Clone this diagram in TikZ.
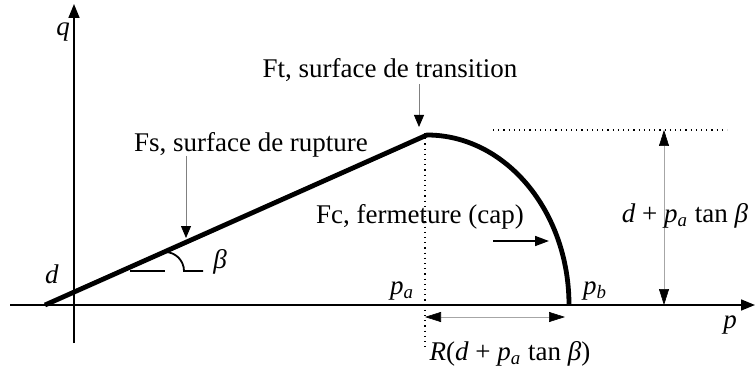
\documentclass[tikz,border=0pt]{standalone}
\usepackage{fontspec}
\setmainfont{Liberation Serif}
\usetikzlibrary{arrows.meta}
\newcommand\myPa{\textit{p}\textsubscript{\textit{a}}}
\newcommand\myBeta{\textit{β}}
\begin{document}
\begin{tikzpicture}[x=0.5pt,y=-0.5pt,
 axis/.style={line width=0.8pt,-{Triangle[length=7pt,width=5.5pt]}},
 thickline/.style={line width=2.4pt},
 dim/.style={gray!70,line width=0.3pt,{Triangle[length=8pt,width=5pt,black]}-{Triangle[length=8pt,width=5pt,black]}},
 lbl/.style={font=\fontsize{13.5}{16}\selectfont,inner sep=0pt},
 ptr/.style={gray,line width=0.4pt,-{Triangle[length=6pt,width=5pt,black]}},
 dots/.style={dotted,line width=0.6pt}]
\useasboundingbox (0,0) rectangle (755,374);
% axes
\coordinate (xl) at (10,305);
\coordinate (xr) at (755,305);
\coordinate (yb) at (74,343);
\coordinate (yt) at (74,4);
\draw[axis] (xl) -- (xr);
\draw[axis] (yb) -- (yt);
% curve
\coordinate (d0) at (45,305);
\coordinate (top) at (427,135);
\coordinate (pb) at (569,305);
\draw[thickline,line join=round] (d0) -- (top) arc[start angle=90,end angle=0,x radius=71pt,y radius=85pt];
% dotted guides
\coordinate (vt) at (425,133);
\coordinate (vb) at (425,348);
\draw[dots] (vt) -- (vb);
\coordinate (hl) at (493,130);
\coordinate (hr) at (727,130);
\draw[dots] (hl) -- (hr);
% dimensions
\coordinate (dvt) at (664,130);
\coordinate (dvb) at (664,305);
\draw[dim] (dvt) -- (dvb);
\coordinate (dhl) at (425,317);
\coordinate (dhr) at (565,317);
\draw[dim] (dhl) -- (dhr);
% angle mark
\coordinate (a1) at (130,271);
\coordinate (a2) at (165,271);
\coordinate (a3) at (165,252);
\coordinate (a4) at (184,271);
\coordinate (a5) at (203,271);
\draw[line width=0.9pt] (a1) -- (a2);
\draw[line width=0.9pt] (a3) arc[start angle=90,end angle=0,radius=9.5pt] -- (a5);
% labels
\node[lbl,anchor=base] (q) at (63,36) {\textit{q}};
\node[lbl] (d) at (52,274) {\textit{d}};
\node[lbl] (beta) at (220,262) {\myBeta};
\node[lbl] (pa) at (402,291) {\myPa};
\node[lbl] (pbl) at (595,291) {\textit{p}\textsubscript{\textit{b}}};
\node[lbl] (p) at (730,325) {\textit{p}};
\node[lbl,anchor=base] (ft) at (390,78) {Ft, surface de transition};
\node[lbl,anchor=base] (fs) at (251,151) {Fs, surface de rupture};
\node[lbl,anchor=base] (fc) at (420,223) {Fc, fermeture (cap)};
\node[lbl,anchor=base] (dim1) at (685,222) {\textit{d} + \myPa\ tan \myBeta};
\node[lbl,anchor=base] (dim2) at (510,360) {\textit{R}(\textit{d} + \myPa\ tan \myBeta)};
% pointers
\coordinate (ftp) at (419,127);
\draw[ptr] (419,84) -- (ftp);
\coordinate (fsp) at (186,238);
\draw[ptr] (186,156) -- (fsp);
\coordinate (fca) at (493,241);
\coordinate (fcb) at (549,241);
\draw[line width=0.8pt,-{Triangle[length=7pt,width=5pt]}] (fca) -- (fcb);
\end{tikzpicture}
\end{document}
